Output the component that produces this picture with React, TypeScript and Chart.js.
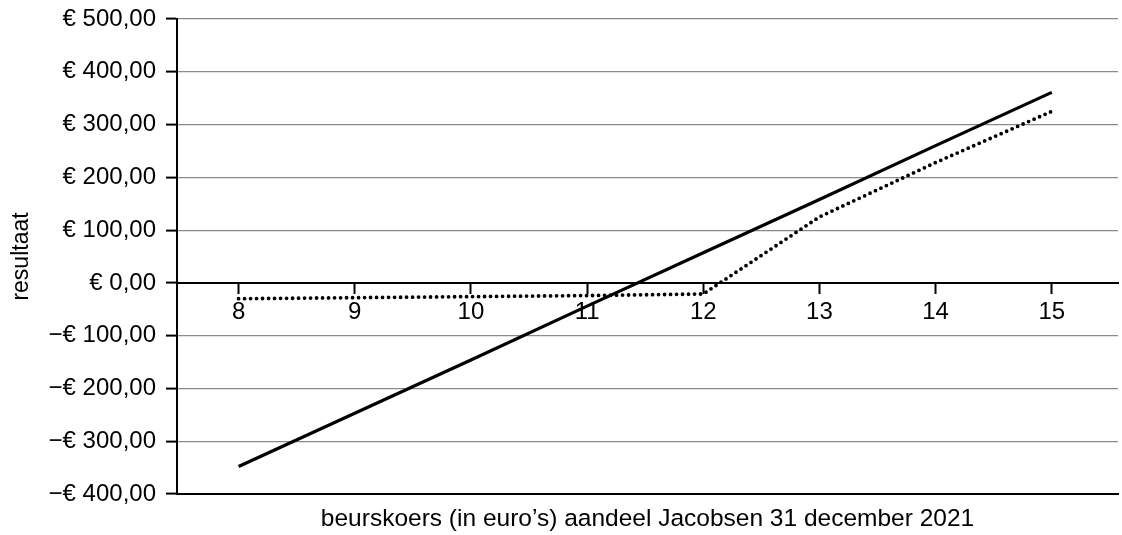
import React, { useEffect, useRef } from "react";
import { Chart, registerables } from "chart.js";

Chart.register(...registerables);

const xValues = [8, 9, 10, 11, 12, 13, 14, 15];
const solidSeries = [-348, -247, -146, -44, 57, 158, 260, 361];
const dottedSeries = [-30, -28, -26, -24, -21, 125, 228, 325];
const yTickValues = [-400, -300, -200, -100, 0, 100, 200, 300, 400, 500];
const yTitle = "resultaat";
const xTitle = "beurskoers (in euro\u2019s) aandeel Jacobsen 31 december 2021";

const FONT = "'Liberation Sans', Arial, sans-serif";

function formatEuro(v: number): string {
  const abs = Math.abs(v).toFixed(2).replace(".", ",");
  return (v < 0 ? "\u2212\u20ac " : "\u20ac ") + abs;
}

export default function App() {
  const ref = useRef<HTMLCanvasElement | null>(null);

  useEffect(() => {
    if (!ref.current) return;
    const chart = new Chart(ref.current, {
      type: "line",
      data: {
        datasets: [
          {
            label: "solid",
            data: xValues.map((x, i) => ({ x, y: solidSeries[i] })),
            borderColor: "#000",
            borderWidth: 3.2,
            pointRadius: 0,
            tension: 0,
            fill: false,
          },
          {
            label: "dotted",
            data: xValues.map((x, i) => ({ x, y: dottedSeries[i] })),
            borderColor: "#000",
            borderWidth: 3.8,
            borderDash: [0, 6],
            borderCapStyle: "round",
            pointRadius: 0,
            tension: 0,
            fill: false,
          },
        ],
      },
      options: {
        responsive: false,
        animation: false,
        layout: { padding: { top: 19, right: 4, bottom: 0, left: 0 } },
        plugins: { legend: { display: false }, tooltip: { enabled: false } },
        scales: {
          x: {
            type: "linear",
            position: { y: 0 } as any,
            min: 7.47,
            max: 15.57,
            ticks: {
              stepSize: 1,
              includeBounds: false,
              autoSkip: false,
              color: "#000",
              padding: 5,
              font: { family: FONT, size: 24 },
            },
            grid: {
              drawOnChartArea: false,
              drawTicks: true,
              tickLength: 10,
              tickColor: "#000",
              tickWidth: 2,
            },
            border: { display: true, color: "#000", width: 2 },
          },
          x2: {
            type: "linear",
            position: "bottom",
            min: 7.47,
            max: 15.57,
            ticks: { display: false },
            grid: { display: false, drawTicks: false },
            border: { display: true, color: "#000", width: 2 },
            title: {
              display: true,
              text: xTitle,
              color: "#000",
              font: { family: FONT, size: 24.5 },
              padding: { top: 2, bottom: 1 },
            },
            afterFit: (scale: any) => {
              scale.height = 41;
            },
          },
          y: {
            type: "linear",
            min: -400,
            max: 500,
            afterBuildTicks: (scale: any) => {
              scale.ticks = yTickValues.map((v) => ({ value: v }));
            },
            ticks: {
              color: "#000",
              padding: 10,
              font: { family: FONT, size: 24 },
              callback: (v: any) => formatEuro(Number(v)),
            },
            grid: {
              color: (ctx: any) =>
                ctx.tick && (ctx.tick.value === 0 || ctx.tick.value === -400)
                  ? "rgba(0,0,0,0)"
                  : "#8a8a8a",
              lineWidth: 1.2,
              tickColor: "#000",
              tickLength: 11,
              tickWidth: 2,
            },
            border: { display: true, color: "#000", width: 2 },
            title: {
              display: true,
              text: yTitle,
              color: "#000",
              font: { family: FONT, size: 23 },
              padding: { top: 8, bottom: 0 },
            },
            afterFit: (scale: any) => {
              scale.width = 177;
              scale.paddingTop = 0;
              scale.paddingBottom = 0;
            },
          },
        },
      },
    });
    return () => chart.destroy();
  }, []);

  return (
    <div style={{ position: "absolute", left: 0, top: 0, width: 1122, height: 535, background: "#fff" }}>
      <canvas ref={ref} width={1122} height={535} style={{ width: 1122, height: 535 }} />
    </div>
  );
}
